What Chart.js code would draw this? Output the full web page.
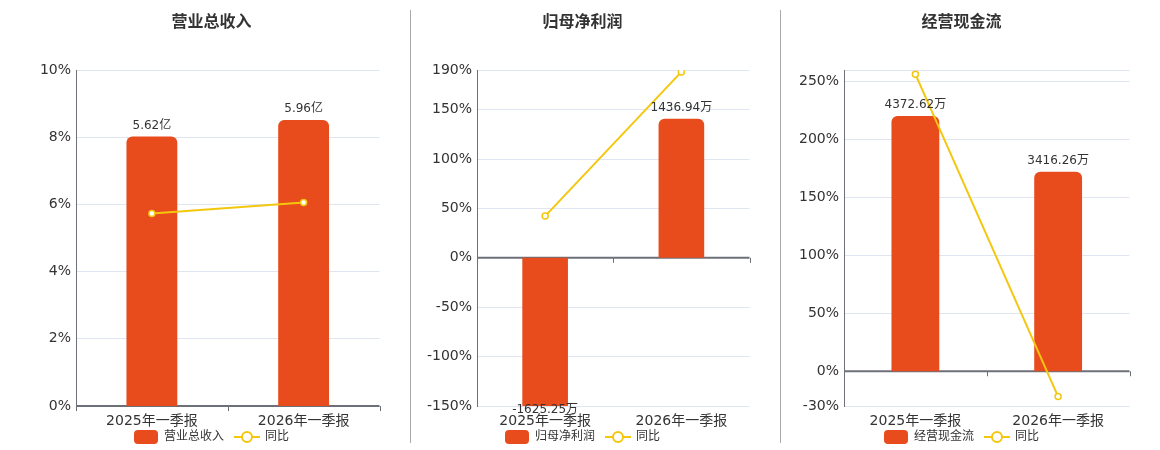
<!DOCTYPE html>
<html>
<head>
<meta charset="utf-8">
<script src="https://cdn.jsdelivr.net/npm/chart.js@4.4.1/dist/chart.umd.min.js"></script>
<style>
  html, body { margin: 0; padding: 0; background: #fff; }
  body { width: 1160px; height: 450px; overflow: hidden; position: relative; }
  .panel { position: absolute; top: 0; }
  .divider { position: absolute; top: 10px; width: 1px; height: 433px; background: #aaa; }
</style>
</head>
<body>
<div class="panel" style="left:38px"><canvas id="c1" width="347" height="463"></canvas></div>
<div class="divider" style="left:410px"></div>
<div class="panel" style="left:410px"><canvas id="c2" width="345" height="463"></canvas></div>
<div class="divider" style="left:780px"></div>
<div class="panel" style="left:788px"><canvas id="c3" width="347" height="463"></canvas></div>
<script>
// 数据
const categories = ['2025年一季报', '2026年一季报'];

const revenue = [5.62, 5.96];          // 亿
const revenueYoy = [5.73, 6.06];       // %
const netProfit = [-1625.25, 1436.94]; // 万
const netProfitYoy = [42.3, 188.3];    // %
const cashFlow = [4372.62, 3416.26];   // 万
const cashFlowYoy = [256.6, -21.87];   // %

const ticksRevenue = [0, 2, 4, 6, 8, 10];
const ticksNetProfit = [-150, -100, -50, 0, 50, 100, 150, 190];
const ticksCashFlow = [-30, 0, 50, 100, 150, 200, 250, 260];

const barColor = '#E84B1C';
const lineColor = '#F4C70F';
const FONT = '"DejaVu Sans", "Noto Sans CJK SC", sans-serif';

Chart.defaults.font.family = FONT;
Chart.defaults.color = '#333';

// 图例图标
function barIcon() {
    const c = document.createElement('canvas');
    c.width = 24; c.height = 14;
    const g = c.getContext('2d');
    g.fillStyle = barColor;
    g.beginPath();
    g.roundRect(0, 0, 24, 14, 4);
    g.fill();
    return c;
}
function lineIcon() {
    const c = document.createElement('canvas');
    c.width = 26; c.height = 14;
    const g = c.getContext('2d');
    g.strokeStyle = lineColor;
    g.lineWidth = 2;
    g.beginPath(); g.moveTo(0, 7); g.lineTo(26, 7); g.stroke();
    g.fillStyle = '#fff';
    g.beginPath(); g.arc(13, 7, 5, 0, Math.PI * 2); g.fill(); g.stroke();
    return c;
}
const icons = [barIcon(), lineIcon()];

// 0 轴线与刻度
const zeroAxis = {
    id: 'zeroAxis',
    afterLayout(chart) {
        // 图例上移，紧贴 x 轴标签
        chart.legend.top -= 10;
        chart.legend.bottom -= 10;
    },
    beforeDatasetsDraw(chart) {
        const { ctx, chartArea } = chart;
        const x = chart.scales.x;
        const y0 = chart.scales.y.getPixelForValue(0);
        ctx.save();
        ctx.strokeStyle = '#6E7079';
        ctx.lineWidth = 2;
        ctx.beginPath();
        ctx.moveTo(chartArea.left, y0);
        ctx.lineTo(chartArea.right, y0);
        ctx.stroke();
        const marks = [chartArea.left];
        for (let i = 1; i < categories.length; i++) {
            marks.push((x.getPixelForValue(i - 1) + x.getPixelForValue(i)) / 2);
        }
        marks.push(chartArea.right);
        ctx.lineWidth = 1;
        marks.forEach(m => {
            ctx.beginPath();
            ctx.moveTo(Math.round(m) + 0.5, y0);
            ctx.lineTo(Math.round(m) + 0.5, y0 + 5);
            ctx.stroke();
        });
        ctx.restore();
    }
};

// 柱子数值标签
const barLabels = {
    id: 'barLabels',
    afterDatasetsDraw(chart, args, opts) {
        const { ctx, chartArea } = chart;
        const meta = chart.getDatasetMeta(0);
        const data = chart.data.datasets[0].data;
        ctx.save();
        ctx.font = '12px ' + FONT;
        ctx.fillStyle = '#333';
        ctx.textAlign = 'center';
        ctx.textBaseline = 'middle';
        meta.data.forEach((bar, i) => {
            const v = data[i];
            let y;
            if (v >= 0) y = bar.y - 11;
            else y = Math.min(bar.y, chartArea.bottom) + 4;
            ctx.fillText(v.toFixed(2) + opts.unit, bar.x, y);
        });
        ctx.restore();
    }
};

function makeChart(id, title, barLabel, bars, yoy, unit, tickVals, yMin, yMax, barMin, barMax, axisWidth) {
    return new Chart(document.getElementById(id), {
        data: {
            labels: categories,
            datasets: [
                {
                    type: 'bar',
                    label: barLabel,
                    data: bars,
                    yAxisID: 'yBar',
                    backgroundColor: barColor,
                    borderRadius: 6,
                    borderSkipped: 'start',
                    barPercentage: 0.335,
                    categoryPercentage: 1,
                    order: 1
                },
                {
                    type: 'line',
                    label: '同比',
                    data: yoy,
                    yAxisID: 'y',
                    borderColor: lineColor,
                    borderWidth: 2,
                    pointRadius: 3,
                    pointBorderWidth: 1.5,
                    pointBackgroundColor: '#fff',
                    pointBorderColor: lineColor,
                    tension: 0,
                    order: 0
                }
            ]
        },
        options: {
            responsive: false,
            animation: false,
            layout: { padding: 0 },
            scales: {
                x: {
                    grid: { display: false, drawTicks: false },
                    border: { display: false },
                    ticks: { padding: 7, font: { size: 14 }, color: '#333' },
                    afterFit(scale) {
                        scale.height = 24;
                        scale.paddingLeft = 0;
                        scale.paddingRight = 0;
                    }
                },
                y: {
                    position: 'left',
                    min: yMin,
                    max: yMax,
                    afterBuildTicks(scale) { scale.ticks = tickVals.map(v => ({ value: v })); },
                    afterFit(scale) { scale.width = axisWidth; },
                    grid: { color: '#E0E6F1', drawTicks: false },
                    border: { display: true, color: '#6E7079', width: 1 },
                    ticks: {
                        padding: 5,
                        font: { size: 14 },
                        color: '#333',
                        callback: v => (v === 260 ? '' : v + '%')
                    }
                },
                yBar: {
                    display: false,
                    min: barMin,
                    max: barMax
                }
            },
            plugins: {
                title: {
                    display: true,
                    text: title,
                    color: '#333',
                    font: { size: 16, weight: 'bold' },
                    padding: { top: 13, bottom: 38 }
                },
                legend: {
                    position: 'bottom',
                    labels: {
                        usePointStyle: true,
                        pointStyleWidth: 24,
                        padding: 11,
                        color: '#333',
                        font: { size: 12 },
                        generateLabels(chart) {
                            return chart.data.datasets.map((ds, i) => ({
                                text: ds.label,
                                pointStyle: icons[i],
                                fontColor: '#333',
                                fillStyle: 'transparent',
                                strokeStyle: 'transparent',
                                lineWidth: 0,
                                hidden: false,
                                datasetIndex: i
                            }));
                        }
                    }
                },
                tooltip: { enabled: false },
                barLabels: { unit: unit }
            }
        },
        plugins: [zeroAxis, barLabels]
    });
}

makeChart('c1', '营业总收入', '营业总收入', revenue, revenueYoy, '亿', ticksRevenue, 0, 10, 0, 7, 38);
makeChart('c2', '归母净利润', '归母净利润', netProfit, netProfitYoy, '万', ticksNetProfit, -150, 190, -1530, 1938, 67);
makeChart('c3', '经营现金流', '经营现金流', cashFlow, cashFlowYoy, '万', ticksCashFlow, -30, 260, -595, 5156, 56);
</script>
</body>
</html>
